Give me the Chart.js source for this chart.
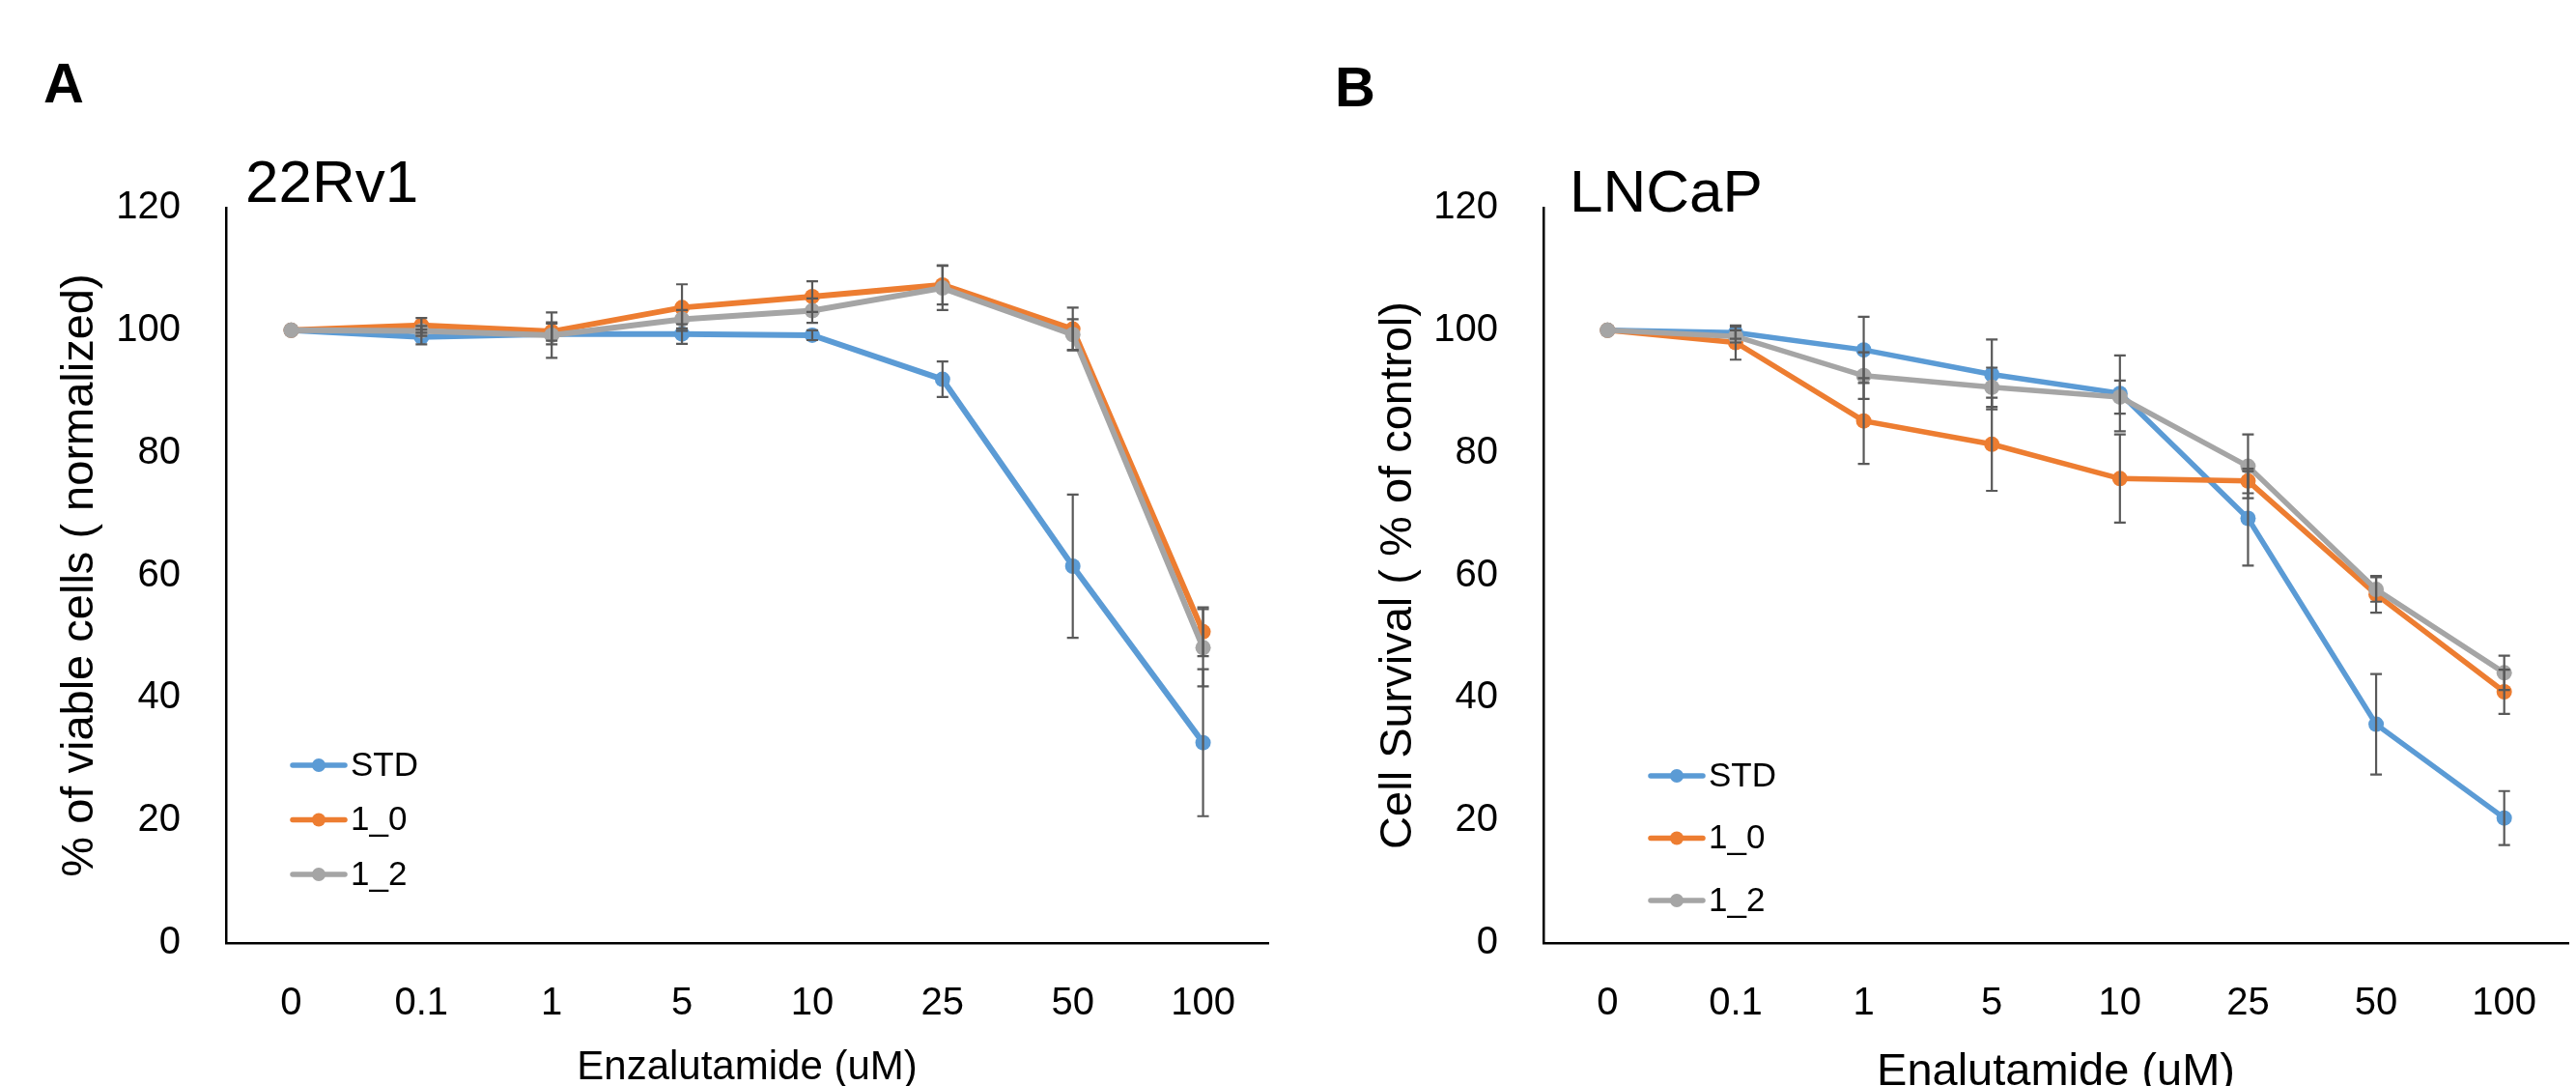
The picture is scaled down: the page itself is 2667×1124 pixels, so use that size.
<!DOCTYPE html>
<html>
<head>
<meta charset="utf-8">
<script src="https://cdn.jsdelivr.net/npm/chart.js@4.4.0/dist/chart.umd.min.js"></script>
<style>
  html, body { margin: 0; padding: 0; background: #fff; overflow: hidden; }
  #page { position: relative; width: 2667px; height: 1124px; }
  .panel { position: absolute; top: 0; }
  .tag { position: absolute; font-family: "Liberation Sans", Arial, sans-serif; font-weight: bold; font-size: 58px; line-height: 58px; color: #000; }
  .cell { position: absolute; font-family: "Liberation Sans", Arial, sans-serif; font-size: 62px; line-height: 62px; color: #000; }
</style>
</head>
<body>
<div id="page">
  <div class="panel" style="left:0px"><canvas id="chartA" width="1333" height="1160"></canvas></div>
  <div class="panel" style="left:1333px"><canvas id="chartB" width="1334" height="1160"></canvas></div>
  <div class="tag" style="left:45px; top:57px">A</div>
  <div class="tag" style="left:1382px; top:61px">B</div>
  <div class="cell" style="left:254px; top:157px">22Rv1</div>
  <div class="cell" style="left:1625px; top:167px">LNCaP</div>
</div>
<script>
const doses = ['0', '0.1', '1', '5', '10', '25', '50', '100']

// panel A - 22Rv1
const a_std = [100, 98.9, 99.4, 99.4, 99.2, 92.0, 61.5, 32.7]
const a_10 = [100, 100.8, 99.8, 103.7, 105.5, 107.4, 100.2, 50.8]
const a_12 = [100, 99.9, 99.2, 101.8, 103.2, 106.9, 99.3, 48.2]
const a_std_err = [0, 1.2, 1.7, 1.6, 0.8, 2.9, 11.7, 12.0]
const a_10_err = [0, 1.2, 1.5, 3.8, 2.5, 3.2, 3.5, 4.0]
const a_12_err = [0, 0.8, 3.7, 1.5, 2.0, 3.6, 2.5, 6.3]

// panel B - LNCaP
const b_std = [100, 99.6, 96.8, 92.8, 89.7, 69.3, 35.7, 20.4]
const b_10 = [100, 98.0, 85.2, 81.4, 75.8, 75.4, 56.9, 41.0]
const b_12 = [100, 99.0, 92.6, 90.7, 89.1, 77.8, 57.7, 44.1]
const b_std_err = [0, 1.0, 5.4, 5.7, 6.2, 7.7, 8.2, 4.4]
const b_10_err = [0, 2.8, 7.0, 7.6, 7.2, 2.0, 3.0, 3.6]
const b_12_err = [0, 1.0, 3.8, 3.2, 2.7, 5.2, 2.0, 2.8]

const seriesNames = ['STD', '1_0', '1_2']
const colors = ['#5B9BD5', '#ED7D31', '#A5A5A5']
const yTicks = [0, 20, 40, 60, 80, 100, 120]

const FONT = '"Liberation Sans", Arial, sans-serif'
Chart.defaults.font.family = FONT
Chart.defaults.color = '#000'

// error bars from dataset.err, drawn with the chart scales
const errorBars = {
    id: 'errorBars',
    afterDatasetsDraw(chart) {
        const ctx = chart.ctx
        const x = chart.scales.x, y = chart.scales.y
        ctx.save()
        ctx.strokeStyle = '#595959'
        ctx.lineWidth = 2.2
        chart.data.datasets.forEach(ds => {
            ds.data.forEach((v, i) => {
                const e = ds.err[i]
                if (!e) return
                const px = x.getPixelForValue(i)
                const top = y.getPixelForValue(v + e)
                const bot = y.getPixelForValue(v - e)
                ctx.beginPath()
                ctx.moveTo(px, top); ctx.lineTo(px, bot)
                ctx.moveTo(px - 6, top); ctx.lineTo(px + 6, top)
                ctx.moveTo(px - 6, bot); ctx.lineTo(px + 6, bot)
                ctx.stroke()
            })
        })
        ctx.restore()
    }
}

// legend inside the plot, lower left
const insideLegend = {
    id: 'insideLegend',
    afterDraw(chart, args, opts) {
        const ctx = chart.ctx
        ctx.save()
        ctx.font = opts.fontSize + 'px ' + FONT
        ctx.textBaseline = 'middle'
        chart.data.datasets.forEach((ds, i) => {
            const cy = opts.y + i * opts.dy
            ctx.strokeStyle = ds.borderColor
            ctx.lineWidth = 5.5
            ctx.lineCap = 'round'
            ctx.beginPath()
            ctx.moveTo(opts.x, cy); ctx.lineTo(opts.x + 54, cy)
            ctx.stroke()
            ctx.fillStyle = ds.borderColor
            ctx.beginPath()
            ctx.arc(opts.x + 27, cy, 7, 0, Math.PI * 2)
            ctx.fill()
            ctx.fillStyle = '#000'
            ctx.fillText(ds.label, opts.x + 60, cy + 1)
        })
        ctx.restore()
    }
}

function makeSet(label, values, err, idx, lw) {
    return {
        label: label,
        data: values,
        err: err,
        borderColor: colors[idx],
        backgroundColor: colors[idx],
        pointBackgroundColor: colors[idx],
        pointBorderWidth: 0,
        pointRadius: 8,
        borderWidth: lw,
        tension: 0,
        order: 3 - idx
    }
}

function createChart(canvas, sets, o) {
    return new Chart(canvas, {
        type: 'line',
        data: { labels: doses, datasets: sets },
        options: {
            responsive: false,
            animation: false,
            layout: { padding: { top: 215, right: o.right, bottom: 0, left: 0 } },
            plugins: {
                legend: { display: false },
                tooltip: { enabled: false },
                insideLegend: o.legend
            },
            scales: {
                x: {
                    offset: true,
                    grid: { display: false, drawTicks: false },
                    border: { display: true, color: '#000', width: 2.5 },
                    ticks: { padding: 39, font: { size: 40 } },
                    title: { display: true, text: o.xTitle, font: { size: o.xSize }, padding: { top: 0, bottom: o.xPad } },
                    afterFit: s => { s.height = 184 }
                },
                y: {
                    min: 0, max: 120,
                    afterBuildTicks: s => { s.ticks = yTicks.map(v => ({ value: v })) },
                    grid: { display: false, drawTicks: false },
                    border: { display: true, color: '#000', width: 2.5 },
                    ticks: { padding: 47, font: { size: 40 } },
                    title: { display: true, text: o.yTitle, font: { size: 47 }, padding: { top: o.yPad, bottom: 0 } },
                    afterFit: s => { s.width = o.yWidth }
                }
            }
        },
        plugins: [errorBars, insideLegend]
    })
}

createChart(document.getElementById('chartA'), [
    makeSet(seriesNames[0], a_std, a_std_err, 0, 6),
    makeSet(seriesNames[1], a_10, a_10_err, 1, 6),
    makeSet(seriesNames[2], a_12, a_12_err, 2, 6)
], {
    right: 20, yWidth: 234, yPad: 55,
    yTitle: '% of viable cells ( normalized)',
    xTitle: 'Enzalutamide (uM)', xSize: 42, xPad: 29,
    legend: { x: 303, y: 792, dy: 56.5, fontSize: 35 }
})

createChart(document.getElementById('chartB'), [
    makeSet(seriesNames[0], b_std, b_std_err, 0, 5.5),
    makeSet(seriesNames[1], b_10, b_10_err, 1, 5.5),
    makeSet(seriesNames[2], b_12, b_12_err, 2, 5.5)
], {
    right: 5, yWidth: 265, yPad: 87,
    yTitle: 'Cell Survival ( % of control)',
    xTitle: 'Enalutamide (uM)', xSize: 47, xPad: 22,
    legend: { x: 376, y: 803, dy: 64.5, fontSize: 35 }
})
</script>
</body>
</html>
